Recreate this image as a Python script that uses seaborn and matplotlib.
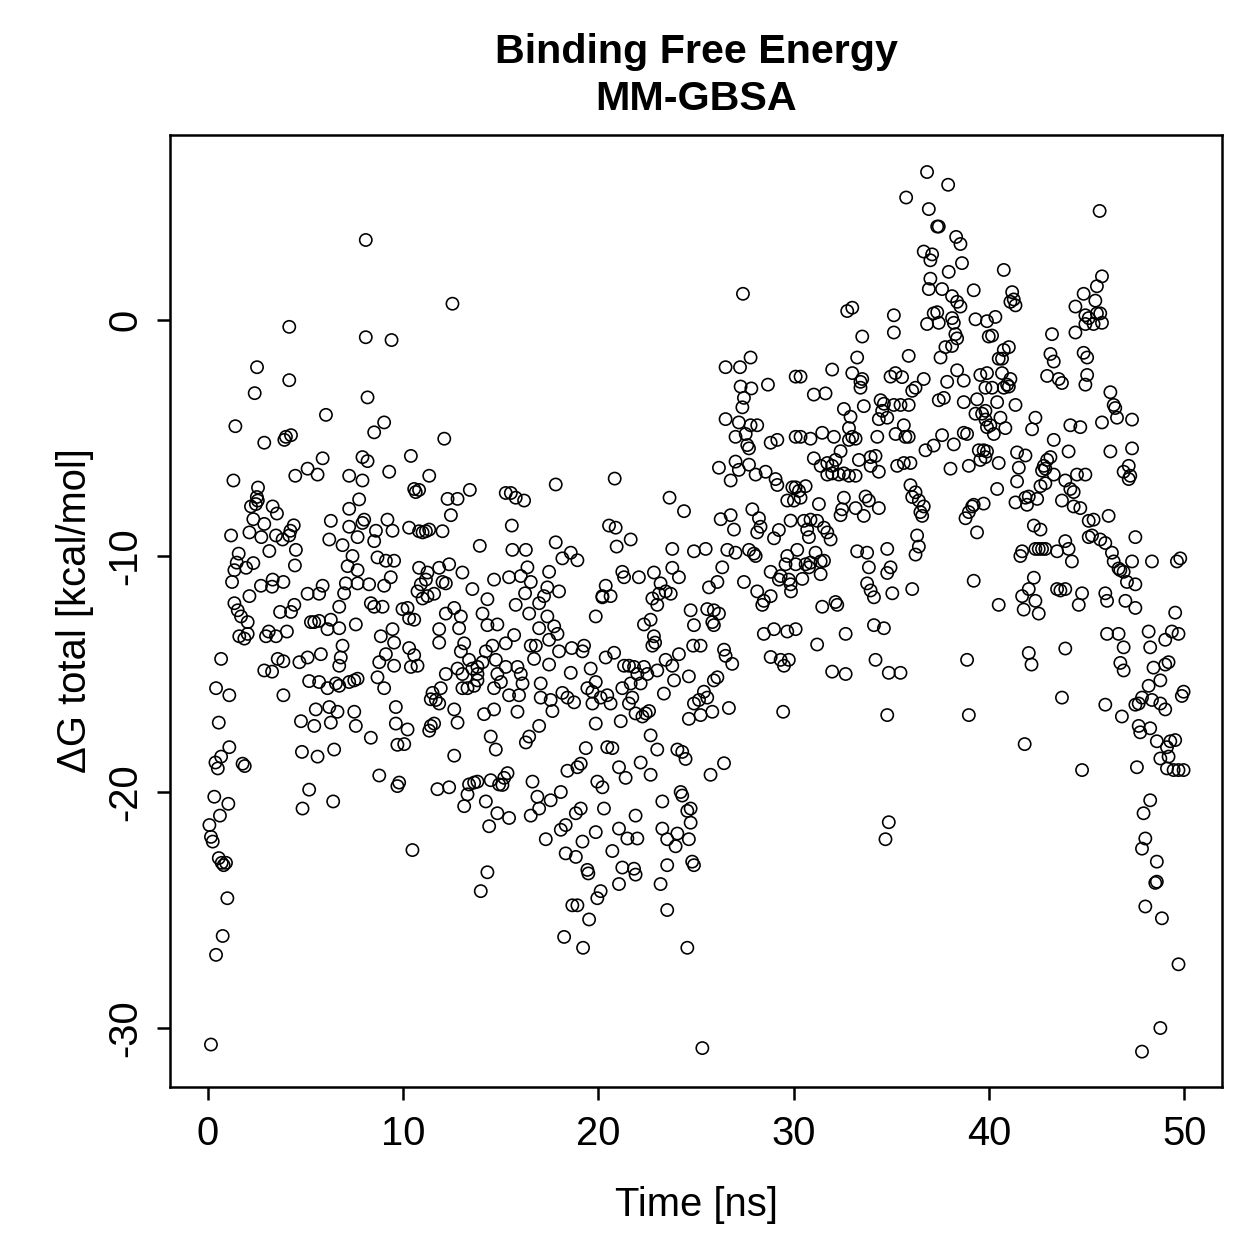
import pandas as pd
import matplotlib
matplotlib.use("Agg")
import matplotlib.pyplot as plt
import seaborn as sns

# (time [ns], dG total [kcal/mol]), one list per 5 ns window
pts_00_05 = [(4.16, -0.29), (2.51, -2.0), (4.16, -2.55), (2.39, -3.1), (1.40, -4.5), (2.88, -5.2), (3.99, -4.95),
             (4.25, -4.88), (3.91, -5.08), (4.47, -6.6), (1.30, -6.8), (2.56, -7.1), (2.50, -7.5), (2.55, -7.65),
             (2.45, -7.8), (2.20, -7.9), (3.31, -7.9), (3.53, -8.2), (4.39, -8.7), (4.22, -8.93), (2.32, -8.44),
             (2.88, -8.64), (1.18, -9.13), (2.12, -9.0), (2.73, -9.2), (3.48, -9.13), (3.82, -9.3), (4.16, -9.13),
             (4.50, -9.74), (3.14, -9.79), (1.57, -9.9), (1.47, -10.28), (1.35, -10.6), (1.23, -11.1), (1.95, -10.5),
             (2.32, -10.3), (4.45, -10.4), (2.71, -11.26), (3.31, -11.0), (3.28, -11.3), (3.86, -11.1), (2.12, -11.7),
             (1.35, -12.0), (1.52, -12.3), (1.69, -12.56), (2.03, -12.8), (4.42, -12.07), (4.25, -12.37), (3.69, -12.37),
             (1.60, -13.4), (1.86, -13.5), (2.03, -13.3), (2.97, -13.4), (3.48, -13.4), (4.04, -13.2), (3.11, -13.2),
             (0.67, -14.36), (2.88, -14.85), (3.28, -14.9), (3.57, -14.36), (3.86, -14.46), (4.68, -14.5), (0.41, -15.6),
             (1.09, -15.9), (3.86, -15.9), (4.76, -17.0), (0.55, -17.06), (1.09, -18.1), (0.67, -18.5), (0.38, -18.75),
             (0.50, -19.0), (1.77, -18.8), (1.88, -18.9), (4.81, -18.3), (0.32, -20.2), (1.04, -20.5), (0.61, -21.0),
             (0.07, -21.4), (0.15, -21.9), (0.24, -22.1), (0.55, -22.8), (0.70, -23.0), (0.80, -23.1), (0.92, -23.0),
             (0.99, -24.5), (0.75, -26.1), (0.41, -26.9), (0.15, -30.7)]

pts_05_10 = [(8.08, 3.39), (8.08, -0.73), (9.40, -0.85), (8.17, -3.28), (6.04, -4.02), (8.51, -4.76), (9.02, -4.34),
             (5.87, -5.86), (7.91, -5.81), (8.17, -5.98), (9.28, -6.43), (5.10, -6.3), (5.61, -6.55), (7.23, -6.6),
             (7.91, -6.8), (7.74, -7.6), (7.23, -8.0), (6.29, -8.51), (8.00, -8.46), (7.91, -8.6), (9.19, -8.46),
             (9.45, -8.93), (7.23, -8.76), (6.21, -9.3), (6.89, -9.54), (7.66, -9.2), (8.51, -9.37), (8.60, -8.93),
             (7.40, -10.0), (7.15, -10.43), (7.66, -10.6), (8.68, -10.06), (9.11, -10.2), (9.53, -10.2), (9.36, -10.9),
             (7.06, -11.16), (6.97, -11.58), (7.66, -11.16), (8.25, -11.2), (9.02, -11.26), (5.10, -11.6), (5.69, -11.6),
             (5.87, -11.26), (6.72, -12.15), (6.29, -12.7), (8.34, -12.0), (8.51, -12.15), (8.94, -12.15), (5.27, -12.8),
             (5.44, -12.8), (5.69, -12.75), (6.12, -13.1), (6.72, -13.06), (7.57, -12.9), (8.85, -13.4), (9.45, -13.1),
             (9.53, -13.67), (6.89, -13.8), (6.80, -14.3), (6.72, -14.65), (9.11, -14.16), (5.10, -14.3), (5.78, -14.16),
             (8.77, -14.5), (9.53, -14.65), (5.18, -15.3), (5.69, -15.34), (6.12, -15.6), (6.55, -15.4), (6.72, -15.5),
             (7.23, -15.34), (7.49, -15.27), (7.66, -15.2), (8.68, -15.14), (9.02, -15.6), (5.52, -16.5), (6.21, -16.4),
             (6.63, -16.6), (7.49, -16.6), (9.62, -16.4), (5.44, -17.2), (6.29, -17.06), (7.57, -17.2), (8.34, -17.7),
             (9.62, -17.1), (5.61, -18.5), (6.46, -18.2), (9.70, -18.0), (8.77, -19.3), (9.70, -19.75), (9.79, -19.6),
             (5.18, -19.9), (4.84, -20.7), (6.41, -20.4)]

pts_10_15 = [(12.52, 0.69), (12.10, -5.03), (10.39, -5.76), (11.33, -6.6), (10.56, -7.16), (10.81, -7.2), (10.64, -7.29),
             (12.27, -7.58), (12.78, -7.58), (13.41, -7.2), (12.44, -8.27), (10.30, -8.8), (10.81, -8.95), (10.99, -9.0),
             (11.16, -8.95), (11.33, -8.88), (12.01, -8.95), (13.92, -9.57), (10.81, -10.5), (11.24, -10.7), (11.16, -11.0),
             (10.90, -11.2), (10.73, -11.5), (10.99, -11.8), (11.24, -11.7), (11.58, -11.6), (11.84, -10.5), (12.35, -10.35),
             (12.18, -11.16), (12.01, -11.1), (13.03, -10.7), (13.54, -11.4), (14.65, -11.0), (14.31, -11.83), (14.82, -12.9),
             (9.96, -12.25), (10.22, -12.2), (10.30, -12.64), (10.56, -12.7), (12.18, -12.44), (11.84, -13.1), (11.84, -13.67),
             (12.61, -12.2), (12.95, -12.56), (12.86, -13.06), (14.06, -12.44), (14.31, -12.93), (10.30, -13.9), (10.56, -14.2),
             (10.73, -14.65), (10.39, -14.7), (13.12, -13.7), (12.95, -14.04), (13.37, -14.4), (12.78, -14.77), (13.03, -15.0),
             (13.54, -14.77), (13.80, -14.7), (14.06, -14.5), (14.23, -14.04), (14.57, -13.8), (14.74, -14.4), (14.82, -15.0),
             (13.80, -15.0), (13.80, -15.27), (13.63, -15.5), (13.29, -15.6), (13.03, -15.6), (14.65, -15.6), (12.18, -15.0),
             (11.92, -15.6), (11.50, -15.8), (11.67, -16.1), (11.41, -16.07), (11.84, -16.25), (12.61, -16.5), (12.78, -17.06),
             (14.14, -16.7), (14.65, -16.5), (10.22, -17.35), (10.05, -17.97), (11.58, -17.1), (11.41, -17.2), (11.33, -17.4),
             (14.48, -17.65), (14.74, -18.2), (12.61, -18.46), (11.75, -19.88), (12.35, -19.8), (13.37, -19.68), (13.63, -19.6),
             (13.80, -19.56), (14.48, -19.5), (14.91, -19.68), (13.29, -20.1), (13.12, -20.6), (14.23, -20.4), (14.82, -20.9),
             (14.40, -21.45), (10.47, -22.46), (14.31, -23.4), (13.97, -24.2)]

pts_15_20 = [(17.81, -6.97), (15.25, -7.33), (15.51, -7.33), (15.76, -7.53), (16.19, -7.65), (15.56, -8.71), (17.81, -9.42),
             (18.15, -10.1), (18.58, -9.86), (18.92, -10.18), (15.59, -9.74), (16.28, -9.74), (15.42, -10.9), (16.02, -10.85),
             (16.36, -10.48), (16.53, -11.1), (17.47, -10.67), (17.98, -11.5), (16.24, -11.58), (15.76, -12.07), (16.45, -12.44),
             (16.96, -12.0), (17.21, -11.7), (17.38, -11.33), (19.86, -12.56), (20.20, -11.7), (15.68, -13.35), (15.25, -13.7),
             (16.53, -13.8), (16.96, -13.06), (17.38, -12.56), (17.73, -12.98), (17.90, -13.3), (17.47, -13.55), (17.98, -14.04),
             (16.79, -13.8), (16.70, -14.36), (17.47, -14.6), (17.04, -15.4), (17.55, -16.1), (17.64, -16.57), (18.63, -13.9),
             (19.26, -13.8), (19.18, -14.04), (18.58, -14.95), (19.60, -14.77), (19.43, -15.6), (19.69, -15.75), (19.86, -15.34),
             (19.69, -16.25), (19.86, -17.1), (15.25, -14.7), (15.00, -15.34), (15.85, -14.7), (16.02, -15.0), (16.11, -15.4),
             (15.42, -15.9), (15.93, -15.9), (15.85, -16.6), (17.04, -16.0), (18.15, -15.8), (18.41, -16.0), (18.75, -16.2),
             (16.96, -17.2), (16.45, -17.65), (16.28, -17.9), (19.35, -18.14), (18.92, -18.95), (18.41, -19.1), (19.09, -18.8),
             (15.17, -19.4), (15.34, -19.2), (15.08, -19.7), (15.42, -21.1), (16.62, -19.56), (16.87, -20.2), (16.96, -20.7),
             (16.53, -21.0), (17.55, -20.35), (18.07, -20.0), (17.30, -22.0), (18.07, -21.6), (18.32, -21.4), (18.84, -20.9),
             (19.09, -20.7), (19.18, -22.1), (19.86, -21.7), (18.32, -22.6), (18.84, -22.75), (19.43, -23.3), (19.48, -23.45),
             (19.94, -24.5), (18.66, -24.8), (18.92, -24.8), (19.52, -25.4), (18.24, -26.14), (19.21, -26.6)]

pts_20_25 = [(20.83, -6.72), (23.64, -7.53), (24.38, -8.1), (20.54, -8.71), (20.88, -8.8), (21.65, -9.3), (20.93, -9.6),
             (23.78, -9.7), (24.89, -9.8), (21.22, -10.67), (21.31, -10.9), (22.07, -10.9), (22.84, -10.7), (23.78, -10.5),
             (24.12, -10.9), (20.37, -11.26), (20.20, -11.75), (20.62, -11.7), (23.18, -11.16), (23.44, -11.5), (23.70, -11.6),
             (23.10, -11.6), (22.76, -11.8), (23.01, -12.07), (22.67, -12.7), (22.33, -12.9), (22.84, -13.4), (22.90, -13.67),
             (22.76, -13.8), (24.72, -12.3), (24.89, -12.93), (24.85, -13.8), (20.37, -14.3), (20.80, -14.1), (21.31, -14.65),
             (21.56, -14.65), (21.82, -14.7), (22.33, -14.7), (22.50, -15.0), (21.99, -15.0), (21.65, -15.4), (21.22, -15.6),
             (22.16, -15.4), (23.01, -14.85), (23.44, -14.4), (23.78, -14.65), (24.12, -14.16), (23.87, -15.27), (23.35, -15.83),
             (24.63, -15.1), (20.45, -15.9), (20.62, -16.25), (20.11, -16.0), (21.73, -16.0), (21.56, -16.25), (21.90, -16.67),
             (22.25, -16.8), (22.42, -16.67), (22.59, -16.57), (21.14, -17.0), (22.67, -17.6), (23.01, -18.2), (24.04, -18.2),
             (24.29, -18.3), (24.46, -18.6), (24.63, -16.9), (24.89, -16.25), (20.45, -18.1), (20.71, -18.14), (22.16, -18.75),
             (22.67, -19.27), (21.05, -18.95), (21.39, -19.4), (19.94, -19.56), (20.20, -19.8), (23.27, -20.4), (24.21, -20.0),
             (24.29, -20.15), (24.55, -20.8), (24.72, -21.3), (24.72, -20.7), (20.28, -20.7), (21.90, -21.0), (21.05, -21.55),
             (21.48, -21.97), (21.99, -21.97), (23.27, -21.55), (23.52, -22.0), (23.95, -22.3), (24.04, -21.76), (24.63, -22.0),
             (20.71, -22.5), (21.22, -23.2), (21.82, -23.25), (21.90, -23.5), (23.52, -23.1), (24.80, -22.95), (24.89, -23.1),
             (21.05, -23.9), (20.11, -24.2), (23.18, -23.9), (23.52, -25.0), (24.55, -26.6)]

pts_25_30 = [(27.40, 1.11), (26.51, -2.0), (27.25, -2.0), (27.79, -1.59), (27.28, -2.82), (27.83, -2.9), (28.68, -2.74),
             (27.45, -3.3), (27.37, -3.7), (26.51, -4.2), (27.19, -4.34), (27.79, -4.46), (28.13, -4.46), (27.02, -4.95),
             (27.54, -4.83), (27.62, -5.3), (27.71, -5.44), (28.82, -5.2), (29.16, -5.08), (30.10, -2.4), (30.10, -4.95),
             (26.17, -6.26), (27.02, -6.0), (27.19, -6.35), (27.71, -6.13), (28.05, -6.55), (26.77, -6.8), (28.56, -6.43),
             (29.07, -6.74), (29.16, -6.99), (29.93, -7.09), (30.01, -7.65), (29.67, -7.65), (26.26, -8.44), (26.77, -8.27),
             (26.94, -8.88), (27.88, -8.02), (28.22, -8.4), (28.30, -8.76), (28.13, -9.0), (28.99, -9.25), (29.24, -8.9),
             (29.84, -8.5), (29.67, -10.0), (25.49, -9.7), (26.60, -9.74), (27.02, -9.86), (27.71, -9.74), (27.96, -9.9),
             (28.05, -10.0), (28.82, -10.67), (29.33, -10.85), (29.58, -10.35), (29.84, -11.2), (29.75, -11.0), (29.24, -11.0),
             (26.34, -10.48), (26.09, -11.1), (25.66, -11.33), (27.45, -11.1), (28.13, -11.5), (28.39, -12.07), (28.47, -11.9),
             (28.82, -11.7), (25.57, -12.25), (25.91, -12.3), (26.17, -12.44), (25.83, -12.8), (25.91, -12.93), (28.47, -13.3),
             (28.99, -13.1), (29.67, -13.2), (28.82, -14.28), (29.33, -14.4), (29.50, -14.65), (29.75, -14.4), (25.23, -13.8),
             (26.43, -13.97), (26.51, -14.23), (26.85, -14.57), (25.40, -15.75), (25.91, -15.27), (26.09, -15.14), (25.57, -16.0),
             (25.15, -16.1), (25.83, -16.6), (25.23, -16.74), (26.68, -16.44), (29.46, -16.6), (25.74, -19.27), (26.43, -18.78),
             (25.32, -30.85)]

pts_30_35 = [(32.74, 0.38), (33.00, 0.52), (35.13, 0.2), (35.13, -0.53), (33.51, -0.7), (33.25, -1.59), (30.35, -2.4),
             (31.97, -2.1), (33.00, -2.25), (33.42, -2.62), (33.51, -2.5), (33.42, -2.87), (34.96, -2.4), (31.03, -3.16),
             (31.63, -3.11), (32.57, -3.77), (32.91, -4.1), (33.59, -3.65), (34.45, -3.4), (34.62, -3.55), (34.53, -3.85),
             (34.36, -4.2), (35.13, -3.6), (30.35, -4.95), (30.86, -5.03), (31.46, -4.78), (32.06, -4.95), (32.83, -4.58),
             (33.00, -4.95), (33.17, -5.03), (32.83, -5.08), (34.28, -4.95), (35.22, -4.83), (31.03, -5.86), (31.38, -6.18),
             (31.72, -6.06), (31.97, -6.18), (32.14, -5.93), (32.40, -5.56), (31.72, -6.55), (31.97, -6.5), (32.31, -6.55),
             (32.57, -6.5), (32.83, -6.6), (33.17, -6.6), (33.34, -5.93), (33.94, -5.81), (34.19, -5.76), (33.94, -6.18),
             (34.36, -6.43), (35.30, -6.18), (30.10, -7.09), (30.27, -7.24), (30.61, -7.04), (30.35, -7.53), (31.29, -7.8),
             (32.57, -7.53), (32.48, -8.02), (32.40, -8.27), (33.17, -7.97), (33.68, -7.48), (33.85, -7.65), (33.59, -8.3),
             (34.36, -7.97), (30.52, -8.51), (30.86, -8.46), (31.20, -8.51), (30.69, -8.88), (30.78, -9.2), (31.55, -8.8),
             (31.72, -9.0), (31.89, -9.3), (30.18, -9.74), (30.10, -10.35), (30.61, -10.35), (30.78, -10.48), (30.86, -10.28),
             (31.12, -9.86), (31.38, -10.23), (31.55, -10.2), (30.44, -10.97), (29.86, -11.5), (31.38, -10.77), (33.25, -9.8),
             (33.76, -9.86), (33.85, -10.48), (33.76, -11.16), (33.94, -11.46), (34.11, -11.75), (34.79, -9.7), (34.96, -10.48),
             (34.79, -10.72), (35.05, -11.58), (31.46, -12.15), (32.14, -11.95), (32.23, -12.07), (32.66, -13.3), (31.20, -13.75),
             (30.10, -13.1), (34.11, -12.93), (34.62, -13.06), (34.19, -14.4), (34.87, -14.95), (31.97, -14.9), (32.66, -15.0),
             (34.79, -16.74), (34.87, -21.28), (34.70, -22.0)]

pts_35_40 = [(36.83, 6.27), (37.91, 5.73), (35.76, 5.19), (36.92, 4.7), (37.35, 3.96), (37.43, 3.96), (38.32, 3.52),
             (38.54, 3.22), (36.66, 2.9), (37.09, 2.78), (37.00, 2.53), (38.62, 2.41), (37.94, 2.04), (37.00, 1.75),
             (36.92, 1.31), (37.60, 1.31), (38.11, 1.01), (38.37, 0.77), (38.54, 0.57), (39.22, 1.26), (37.17, 0.28),
             (37.35, 0.33), (37.43, -0.12), (36.83, -0.17), (38.11, 0.08), (38.20, -0.12), (39.31, 0.03), (39.90, -0.05),
             (38.28, -0.6), (38.37, -0.78), (38.11, -1.1), (37.77, -1.15), (39.99, -0.7), (37.52, -1.59), (35.89, -1.52),
             (35.21, -2.25), (35.55, -2.42), (36.66, -2.5), (36.24, -2.87), (36.07, -3.0), (37.43, -3.4), (37.69, -3.3),
             (37.86, -2.62), (38.37, -2.13), (38.71, -2.57), (39.56, -2.33), (35.47, -3.6), (35.89, -3.6), (38.71, -3.48),
             (39.39, -3.36), (39.31, -3.97), (39.65, -3.97), (39.82, -3.85), (39.90, -4.54), (40.07, -4.46), (35.64, -4.46),
             (35.72, -4.95), (35.89, -4.95), (34.79, -4.14), (37.60, -4.88), (37.17, -5.32), (36.75, -5.52), (38.20, -5.27),
             (38.88, -4.83), (38.71, -4.78), (35.64, -6.06), (35.98, -6.06), (38.03, -6.3), (38.97, -6.18), (39.56, -5.93),
             (39.48, -5.52), (39.73, -5.52), (39.90, -5.57), (35.98, -7.0), (36.24, -7.3), (36.07, -7.5), (36.41, -7.65),
             (36.66, -7.9), (36.49, -8.14), (36.58, -8.3), (38.80, -8.4), (38.97, -8.14), (39.14, -7.9), (39.22, -7.83),
             (39.73, -7.78), (39.39, -9.0), (36.32, -9.13), (36.41, -9.6), (36.24, -9.94), (36.07, -11.4), (39.22, -11.05),
             (35.47, -14.95), (38.88, -14.4), (38.97, -16.74)]

pts_40_45 = [(40.76, 2.12), (41.19, 1.18), (41.27, 0.87), (41.36, 0.62), (41.10, 0.77), (44.85, 1.11), (44.43, 0.57),
             (44.94, 0.2), (40.33, 0.13), (40.16, -0.66), (43.23, -0.6), (44.43, -0.53), (44.94, -0.17), (45.11, 0.08),
             (41.02, -1.15), (40.76, -1.27), (40.67, -1.64), (40.50, -1.64), (43.15, -1.44), (43.32, -1.76), (44.85, -1.39),
             (45.03, -1.59), (39.90, -2.25), (40.67, -2.25), (41.10, -2.5), (40.93, -2.74), (40.76, -2.87), (41.02, -2.82),
             (40.16, -2.87), (39.82, -2.87), (42.98, -2.37), (43.57, -2.5), (43.74, -2.67), (45.03, -2.33), (44.94, -2.74),
             (40.42, -3.48), (41.36, -3.6), (39.82, -4.22), (40.59, -4.14), (40.25, -4.83), (40.84, -4.58), (42.21, -4.63),
             (42.38, -4.14), (44.17, -4.46), (44.68, -4.54), (43.32, -5.08), (44.08, -5.57), (39.82, -5.81), (40.50, -6.06),
             (41.44, -5.61), (41.87, -5.74), (41.53, -6.26), (42.98, -5.93), (43.15, -5.81), (42.81, -6.18), (42.89, -6.3),
             (42.72, -6.38), (43.32, -6.55), (43.91, -6.8), (44.51, -6.55), (44.94, -6.55), (44.17, -7.16), (44.34, -7.29),
             (40.42, -7.16), (41.44, -6.84), (41.36, -7.73), (41.87, -7.53), (42.04, -7.48), (42.47, -7.58), (41.95, -7.83),
             (42.89, -6.92), (42.64, -7.04), (43.74, -7.65), (44.34, -7.9), (44.68, -7.97), (45.11, -8.51), (42.30, -8.71),
             (42.64, -8.88), (42.38, -9.7), (42.55, -9.7), (42.72, -9.7), (42.89, -9.7), (43.49, -9.8), (43.91, -9.37),
             (44.08, -9.7), (44.25, -10.23), (45.11, -9.2), (41.70, -9.8), (41.61, -10.0), (42.30, -10.92), (42.04, -11.4),
             (41.70, -11.7), (42.38, -11.9), (41.78, -12.27), (42.55, -12.44), (40.50, -12.07), (43.49, -11.4), (43.66, -11.46),
             (43.91, -11.4), (44.77, -11.58), (44.60, -12.07), (42.04, -14.11), (42.18, -14.6), (43.91, -13.92), (43.74, -16.0),
             (41.83, -17.97), (44.77, -19.07)]

pts_45_50 = [(45.67, 4.62), (45.79, 1.85), (45.53, 1.43), (45.45, 0.82), (45.53, 0.28), (45.70, 0.28), (45.79, -0.12),
             (45.36, -0.17), (46.22, -3.06), (46.39, -3.6), (46.47, -3.73), (46.56, -4.14), (45.79, -4.34), (47.33, -4.22),
             (46.22, -5.57), (47.33, -5.44), (47.16, -6.18), (46.90, -6.43), (47.24, -6.6), (47.16, -6.74), (45.36, -8.46),
             (46.13, -8.3), (47.50, -9.2), (45.70, -9.3), (45.28, -9.13), (45.96, -9.45), (46.30, -9.86), (46.39, -10.23),
             (46.64, -10.53), (46.90, -10.67), (46.73, -10.6), (47.33, -10.23), (48.35, -10.23), (49.63, -10.23), (49.80, -10.1),
             (45.96, -11.58), (46.05, -11.9), (47.07, -11.1), (47.50, -11.2), (46.99, -11.9), (47.50, -12.2), (46.05, -13.3),
             (46.64, -13.3), (46.90, -13.87), (49.54, -12.4), (48.18, -13.2), (48.26, -13.87), (49.03, -13.55), (49.37, -13.2),
             (49.71, -13.3), (46.73, -14.53), (46.90, -14.85), (48.43, -14.73), (48.78, -15.27), (49.03, -14.6), (49.20, -14.5),
             (48.18, -15.5), (47.84, -16.0), (47.67, -16.25), (47.50, -16.3), (48.35, -16.1), (48.78, -16.25), (49.03, -16.5),
             (49.97, -15.75), (49.88, -15.93), (45.96, -16.3), (46.81, -16.8), (47.67, -17.2), (47.75, -17.47), (48.26, -17.3),
             (48.60, -17.85), (48.78, -18.58), (49.29, -17.85), (49.54, -17.8), (49.12, -18.1), (49.20, -18.5), (49.12, -19.0),
             (49.46, -19.07), (49.71, -19.07), (49.97, -19.07), (47.58, -18.95), (48.26, -20.35), (47.92, -20.9), (48.01, -21.97),
             (47.84, -22.4), (48.60, -22.95), (48.52, -23.85), (48.60, -23.8), (48.01, -24.85), (48.86, -25.35), (49.71, -27.3),
             (48.78, -30.0), (47.84, -31.0)]

all_pts = (pts_00_05 + pts_05_10 + pts_10_15 + pts_15_20 + pts_20_25
           + pts_25_30 + pts_30_35 + pts_35_40 + pts_40_45 + pts_45_50)
df = pd.DataFrame(all_pts, columns=['time', 'dG'])

sns.set_style("ticks")
plt.rcParams['font.family'] = ['Liberation Sans', 'DejaVu Sans']
plt.rcParams['axes.unicode_minus'] = False
plt.rcParams['text.color'] = 'black'
plt.rcParams['axes.labelcolor'] = 'black'
plt.rcParams['xtick.color'] = 'black'
plt.rcParams['ytick.color'] = 'black'

fig = plt.figure(figsize=(1259 / 180, 1259 / 180), dpi=180)
ax = fig.add_axes([0.135, 0.1366, 0.8358, 0.7562])

sns.scatterplot(
    data=df, x='time', y='dG', ax=ax,
    marker='o', s=24, facecolors='none', edgecolors='black', linewidth=0.65
)

ax.set_xlim(-1.95, 51.95)
ax.set_ylim(-32.5, 7.84)
ax.set_xticks([0, 10, 20, 30, 40, 50])
ax.set_yticks([-30, -20, -10, 0])
ax.tick_params(axis='both', direction='out', length=5.2, width=1.0, labelsize=16)
ax.tick_params(axis='x', pad=6)
ax.tick_params(axis='y', pad=5)
for lbl in ax.get_yticklabels():
    lbl.set_rotation(90)
    lbl.set_va('center')
for sp in ax.spines.values():
    sp.set_visible(True)
    sp.set_linewidth(1.0)
    sp.set_color('black')

ax.set_xlabel('Time [ns]', fontsize=16, labelpad=13)
ax.set_ylabel('ΔG total [kcal/mol]', fontsize=16, labelpad=5)
ax.set_title('Binding Free Energy\nMM-GBSA', fontsize=16.5, fontweight='bold', pad=10, linespacing=1.3)

fig.savefig('out.png', dpi=180)
